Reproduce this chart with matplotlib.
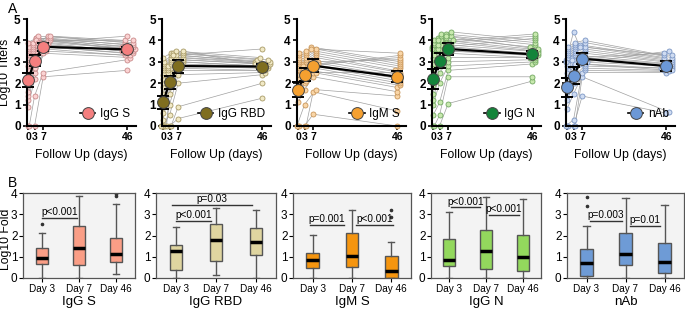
import numpy as np
import matplotlib
matplotlib.use("Agg")
import matplotlib.pyplot as plt
from matplotlib.lines import Line2D

plt.rcParams['font.family'] = ['Liberation Sans', 'DejaVu Sans']

# ---- panel A: individual titers (log10) at day 0, 3, 7, 46 ----
days = [0, 3, 7, 46]
names = ["IgG S", "IgG RBD", "IgM S", "IgG N", "nAb"]

igg_s_d0 = [0.0, 0.0, 0.9, 1.2, 1.4, 1.6, 1.9, 2.1, 2.3, 2.5, 2.6, 2.8, 2.9, 3.0, 3.1, 3.2, 3.3, 3.4, 3.5, 3.6, 3.7, 3.9]
igg_s_d3 = [0.0, 1.4, 2.2, 2.5, 2.7, 2.9, 3.0, 3.1, 3.2, 3.3, 3.3, 3.4, 3.5, 3.5, 3.6, 3.6, 3.7, 3.8, 3.8, 3.9, 4.0, 4.1]
igg_s_d7 = [2.3, 2.5, 3.4, 3.5, 3.6, 3.7, 3.7, 3.8, 3.8, 3.9, 3.9, 4.0, 4.0, 4.0, 4.1, 4.1, 4.1, 4.2, 4.2, 4.2, 4.0, 3.9]
igg_s_d46 = [2.6, 3.1, 3.2, 3.3, 3.3, 3.4, 3.4, 3.5, 3.5, 3.5, 3.6, 3.6, 3.6, 3.7, 3.7, 3.8, 3.8, 3.9, 3.9, 4.0, 4.0, 4.2]

rbd_d0 = [0.0, 0.0, 0.0, 0.0, 0.0, 0.0, 0.3, 0.6, 0.9, 1.2, 1.5, 1.8, 2.0, 2.2, 2.4, 2.5, 2.6, 2.7, 2.8, 2.9, 3.0, 3.2]
rbd_d3 = [0.0, 0.0, 0.5, 1.0, 1.5, 1.8, 2.0, 2.2, 2.3, 2.4, 2.5, 2.5, 2.6, 2.7, 2.7, 2.8, 2.9, 3.0, 3.1, 3.2, 3.3, 3.4]
rbd_d7 = [0.35, 0.9, 2.0, 2.4, 2.6, 2.7, 2.8, 2.9, 2.9, 3.0, 3.0, 3.1, 3.1, 3.2, 3.2, 3.3, 3.3, 3.4, 3.4, 3.5, 3.5, 3.3]
rbd_d46 = [1.3, 2.0, 2.4, 2.5, 2.6, 2.6, 2.7, 2.7, 2.8, 2.8, 2.8, 2.9, 2.9, 2.9, 3.0, 3.0, 3.0, 3.1, 3.1, 3.2, 2.9, 3.6]

igm_s_d0 = [0.0, 0.0, 0.0, 1.1, 1.5, 1.9, 2.1, 2.3, 2.5, 2.6, 2.7, 2.8, 2.9, 3.0, 3.1, 3.2, 3.3, 2.4, 2.2, 2.0, 1.8, 3.4]
igm_s_d3 = [0.0, 0.0, 1.0, 1.7, 2.0, 2.2, 2.4, 2.5, 2.6, 2.7, 2.8, 2.9, 3.0, 3.1, 3.2, 3.3, 3.4, 2.8, 2.6, 2.3, 2.1, 3.5]
igm_s_d7 = [0.55, 1.6, 1.7, 2.3, 2.5, 2.6, 2.7, 2.8, 2.9, 3.0, 3.1, 3.2, 3.3, 3.4, 3.5, 3.6, 3.7, 3.0, 2.9, 2.8, 2.5, 3.6]
igm_s_d46 = [0.0, 0.7, 1.4, 1.6, 1.8, 1.9, 2.0, 2.1, 2.2, 2.3, 2.4, 2.5, 2.6, 2.7, 2.8, 2.9, 3.0, 3.1, 3.2, 3.3, 2.5, 3.4]

igg_n_d0 = [0.0, 0.0, 0.5, 1.0, 1.2, 1.5, 1.9, 2.3, 2.6, 2.8, 3.0, 3.2, 3.4, 3.5, 3.6, 3.7, 3.8, 3.9, 4.0, 3.3, 2.9, 3.6]
igg_n_d3 = [0.0, 0.5, 1.1, 2.0, 2.5, 2.8, 3.0, 3.2, 3.4, 3.5, 3.6, 3.7, 3.8, 3.9, 4.0, 4.1, 4.2, 4.3, 3.6, 3.3, 3.8, 4.0]
igg_n_d7 = [1.05, 2.3, 2.6, 2.8, 3.0, 3.2, 3.4, 3.5, 3.6, 3.7, 3.8, 3.9, 4.0, 4.1, 4.2, 4.3, 4.4, 3.7, 3.9, 4.0, 3.5, 4.2]
igg_n_d46 = [2.1, 2.3, 2.9, 3.0, 3.1, 3.2, 3.2, 3.3, 3.3, 3.4, 3.5, 3.5, 3.6, 3.7, 3.8, 3.9, 4.0, 4.1, 4.2, 4.3, 3.4, 3.6]

nab_d0 = [0.0, 0.0, 0.0, 0.8, 1.2, 1.6, 2.0, 2.3, 2.6, 2.8, 3.0, 3.1, 3.2, 3.3, 3.4, 3.5, 3.6, 3.7, 2.9, 2.5, 1.9, 3.0]
nab_d3 = [0.0, 0.0, 0.3, 1.5, 2.0, 2.3, 2.6, 2.8, 3.0, 3.1, 3.2, 3.3, 3.4, 3.5, 3.6, 3.7, 3.8, 3.9, 3.1, 2.9, 2.5, 4.4]
nab_d7 = [1.4, 2.3, 2.5, 2.6, 2.7, 2.8, 2.9, 3.0, 3.1, 3.2, 3.3, 3.4, 3.5, 3.6, 3.7, 3.8, 3.9, 4.0, 3.2, 3.0, 2.9, 3.7]
nab_d46 = [0.6, 0.65, 2.5, 2.55, 2.6, 2.7, 2.7, 2.8, 2.8, 2.9, 2.9, 3.0, 3.0, 3.1, 3.1, 3.2, 3.2, 3.3, 3.4, 3.5, 2.6, 3.3]

individual = [
    [igg_s_d0, igg_s_d3, igg_s_d7, igg_s_d46],
    [rbd_d0, rbd_d3, rbd_d7, rbd_d46],
    [igm_s_d0, igm_s_d3, igm_s_d7, igm_s_d46],
    [igg_n_d0, igg_n_d3, igg_n_d7, igg_n_d46],
    [nab_d0, nab_d3, nab_d7, nab_d46],
]

# group means and error bars
means = [
    [2.15, 3.05, 3.7, 3.58],
    [1.1, 2.05, 2.8, 2.78],
    [1.7, 2.4, 2.82, 2.3],
    [2.2, 3.05, 3.6, 3.35],
    [1.8, 2.35, 3.15, 2.8],
]
errs = [
    [0.35, 0.25, 0.2, 0.12],
    [0.3, 0.3, 0.3, 0.12],
    [0.35, 0.3, 0.3, 0.25],
    [0.45, 0.35, 0.3, 0.15],
    [0.45, 0.4, 0.25, 0.25],
]

mean_colors = ["#f47f7f", "#7f6e1f", "#f5a030", "#13843a", "#6c98d6"]
ind_face = ["#fbd3d3", "#f1e9c6", "#f9d6a8", "#c8e9ae", "#cfdcf2"]
ind_edge = ["#c98a8a", "#a89a66", "#c9965a", "#72a862", "#7b96c4"]

# ---- panel B: log10 fold change boxplots ----
box_labels = ["Day 3", "Day 7", "Day 46"]
box_colors = ["#fa9e86", "#dfd5a0", "#f5950f", "#93d85d", "#6e9bd6"]
# (whislo, q1, med, q3, whishi, fliers)
igg_s_box = [(0.0, 0.65, 0.95, 1.4, 2.1, [2.55]),
             (0.02, 0.6, 1.42, 2.45, 3.85, []),
             (0.18, 0.75, 1.12, 1.88, 3.5, [3.97, 3.88])]
rbd_box = [(0.0, 0.38, 1.27, 1.55, 2.42, []),
           (0.12, 0.78, 1.78, 2.55, 3.3, []),
           (0.0, 1.1, 1.68, 2.33, 3.2, [])]
igm_s_box = [(0.0, 0.45, 0.85, 1.18, 2.03, []),
             (0.0, 0.52, 1.05, 2.12, 3.18, []),
             (0.0, 0.0, 0.33, 1.03, 1.7, [3.2, 2.85])]
igg_n_box = [(0.0, 0.55, 0.87, 1.82, 3.1, []),
             (0.0, 0.42, 1.28, 2.25, 3.82, []),
             (0.0, 0.35, 0.97, 2.03, 3.7, [])]
nab_box = [(0.0, 0.08, 0.7, 1.38, 2.45, [3.8, 3.4]),
           (0.0, 0.6, 1.15, 2.1, 3.75, []),
           (0.0, 0.22, 0.75, 1.67, 3.45, [])]
boxes = [igg_s_box, rbd_box, igm_s_box, igg_n_box, nab_box]

# significance bars: (x1, x2, y, text)
sig = [
    [(1.0, 1.95, 2.82, "p<0.001")],
    [(1.0, 1.87, 2.69, "p<0.001"), (0.9, 2.9, 3.45, "p=0.03")],
    [(0.93, 1.8, 2.5, "p=0.001"), (2.1, 3.04, 2.5, "p<0.001")],
    [(1.04, 1.83, 3.32, "p<0.001"), (2.09, 2.9, 2.97, "p<0.001")],
    [(1.08, 1.92, 2.67, "p=0.003"), (2.12, 2.89, 2.46, "p=0.01")],
]


def swarm(vals, step, dy=0.16):
    offs = np.zeros(len(vals))
    placed = []
    for i in np.argsort(vals, kind="stable"):
        n = sum(1 for j in placed if abs(vals[j] - vals[i]) < dy)
        offs[i] = step * ((n + 1) // 2) * (1 if n % 2 else -1)
        placed.append(i)
    return offs


W, H = 685, 312
fig = plt.figure(figsize=(W / 100, H / 100), dpi=100)

top_left = [27, 162, 297, 432, 566]
for k in range(5):
    ax = fig.add_axes([top_left[k] / W, (H - 126) / H, 109 / W, 107 / H])
    data = np.array(individual[k])  # shape (4, n)
    steps = [0.55, 0.7, 1.1, 1.2]
    xs = np.array([days[t] + swarm(data[t], steps[t]) for t in range(4)])
    for i in range(data.shape[1]):
        ax.plot(xs[:, i], data[:, i], color="#a0a0a0", lw=0.5, zorder=1, clip_on=False)
    for t in range(4):
        ax.plot(xs[t], data[t], "o", ms=3.6, mfc=ind_face[k], mec=ind_edge[k],
                mew=0.6, zorder=2, clip_on=False, ls="none")
    ax.errorbar(days, means[k], yerr=errs[k], color="k", lw=1.6, capsize=4,
                capthick=1.4, elinewidth=1.4, zorder=3, clip_on=False)
    ax.plot(days, means[k], "o", ms=8.5, mfc=mean_colors[k], mec="#444",
            mew=0.7, zorder=4, clip_on=False, ls="none")
    ax.set_xlim(-0.5, 50)
    ax.set_ylim(0, 5)
    ax.set_xticks(days)
    ax.set_xticklabels(["0", "3", "7", "46"], fontweight="bold", fontsize=7.5)
    ax.set_yticks(range(6))
    ax.set_yticklabels([str(v) for v in range(6)], fontweight="bold", fontsize=8.5)
    ax.tick_params(length=3, width=1.2, pad=1.5)
    for s in ["top", "right"]:
        ax.spines[s].set_visible(False)
    for s in ["left", "bottom"]:
        ax.spines[s].set_linewidth(1.5)
    ax.set_xlabel("Follow Up (days)", fontsize=8.8, labelpad=5)
    if k == 0:
        ax.set_ylabel("Log10 Titers", fontsize=8.8)
        ax.yaxis.set_label_coords(-0.145, 0.5)
    h = Line2D([], [], color="k", lw=1.2, marker="o", ms=8.5,
               mfc=mean_colors[k], mec="#444", mew=0.7)
    ax.legend([h], [names[k]], loc="lower right", frameon=False, fontsize=8.5,
              handlelength=1.3, handletextpad=0.4, borderaxespad=0.1)

bot_left = [23, 156, 293, 431, 567]
bot_width = [112, 120, 118, 110, 117]
for k in range(5):
    ax = fig.add_axes([bot_left[k] / W, (H - 278) / H, bot_width[k] / W, 85 / H])
    ax.set_facecolor("#f3f3f3")
    stats = []
    for (lo, q1, med, q3, hi, fl), lab in zip(boxes[k], box_labels):
        stats.append(dict(whislo=lo, q1=q1, med=med, q3=q3, whishi=hi,
                          fliers=fl, label=lab))
    ax.bxp(stats, positions=[1, 2, 3], widths=0.32, patch_artist=True,
           boxprops=dict(facecolor=box_colors[k], edgecolor="#555", lw=1),
           medianprops=dict(color="k", lw=2.5),
           whiskerprops=dict(color="#555", lw=1),
           capprops=dict(color="#555", lw=1),
           capwidths=0.16,
           flierprops=dict(marker="o", ms=1.6, mfc="#333", mec="#333"))
    for x1, x2, y, txt in sig[k]:
        ax.plot([x1, x2], [y, y], color="#333", lw=1)
        ax.text((x1 + x2) / 2, y + 0.04, txt, ha="center", va="bottom", fontsize=7.2)
    ax.set_xlim(0.5, 3.5)
    ax.set_ylim(0, 4)
    ax.set_yticks(range(5))
    ax.tick_params(axis="y", labelsize=8.5, length=3, pad=1)
    ax.tick_params(axis="x", labelsize=7.2, length=3, pad=1)
    for s in ax.spines.values():
        s.set_color("#555")
        s.set_linewidth(0.9)
    ax.set_xlabel(names[k], fontsize=9.5, labelpad=2)
    if k == 0:
        ax.set_ylabel("Log10 Fold", fontsize=8.8)
        ax.yaxis.set_label_coords(-0.1, 0.45)

fig.text(8 / W, 1 - 2 / H, "A", fontsize=10, va="top")
fig.text(8 / W, 1 - 176 / H, "B", fontsize=10, va="top")

fig.savefig("out.png", dpi=100)
